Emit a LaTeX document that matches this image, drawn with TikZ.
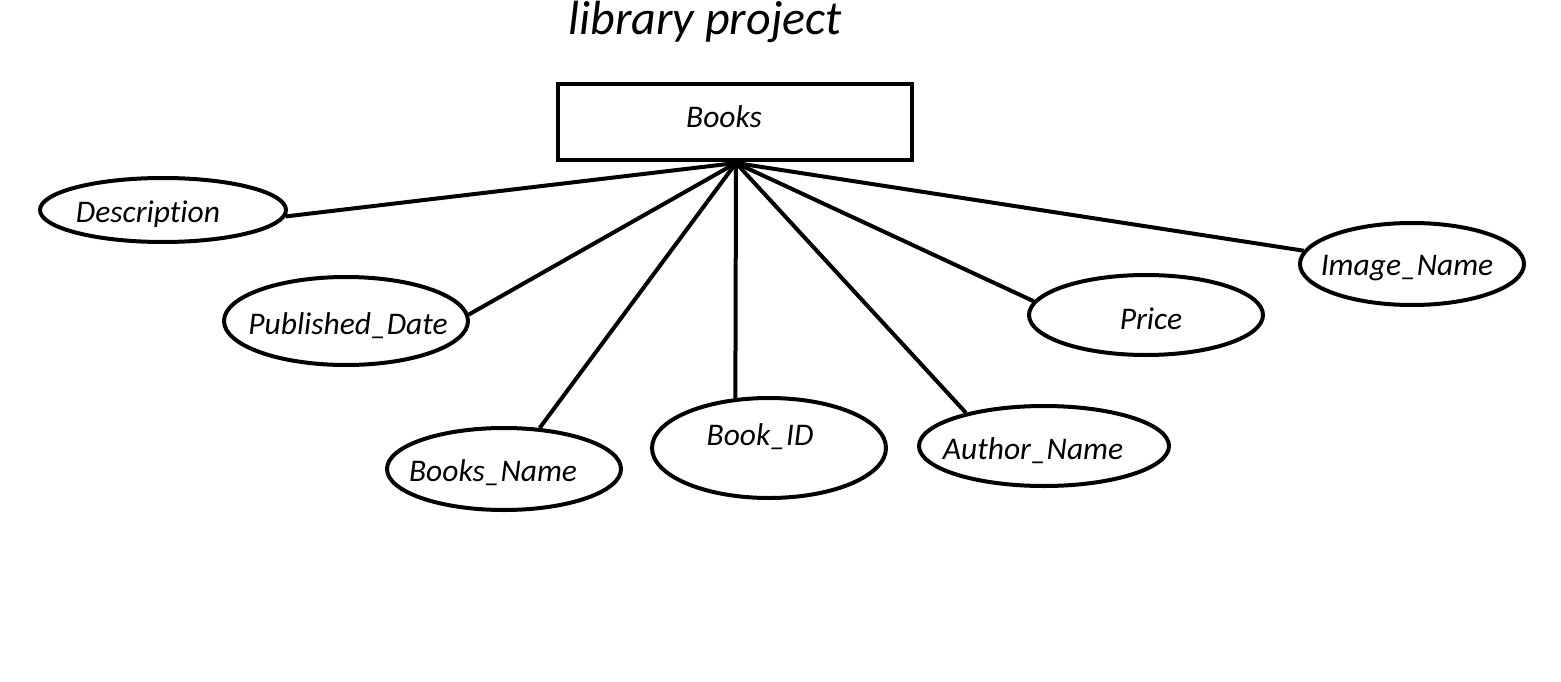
\documentclass[tikz,border=0pt]{standalone}
\usepackage{fontspec}
\setmainfont[Ligatures={NoCommon}]{Carlito}
\usetikzlibrary{shapes.geometric}
\begin{document}
\begin{tikzpicture}[x=1pt,y=-1pt,
  ent/.style={draw,line width=4.5pt,minimum width=354pt,minimum height=76pt,inner sep=0pt},
  ell/.style={draw,ellipse,line width=4pt,inner sep=0pt},
  txt/.style={font=\fontsize{31.5}{38}\selectfont\itshape,inner sep=0pt},
  conn/.style={line width=4pt}]
\useasboundingbox[fill=white] (0,0) rectangle (1561,682);
\node[font=\fontsize{48}{58}\selectfont\itshape,inner sep=0pt] (title) at (705,22) {library project};
\node[ent] (books) at (735,122) {};
\node[txt] (bookst) at (724,117) {Books};
\coordinate (hub) at (736,163);
\node[ell,minimum width=246pt,minimum height=64pt] (desc) at (163,210) {};
\node[txt] at (148,214) {Description};
\node[ell,minimum width=244pt,minimum height=88pt] (pub) at (346,321) {};
\node[txt] at (348,326) {Published\_Date};
\node[ell,minimum width=234pt,minimum height=82pt] (bname) at (504,469) {};
\node[txt] at (493,473) {Books\_Name};
\node[ell,minimum width=234pt,minimum height=100pt] (bid) at (769,448) {};
\node[txt] at (760,437) {Book\_ID};
\node[ell,minimum width=250pt,minimum height=80pt] (auth) at (1044,446) {};
\node[txt] at (1033,451) {Author\_Name};
\node[ell,minimum width=234pt,minimum height=80pt] (price) at (1146,315) {};
\node[txt] at (1151,319) {Price};
\node[ell,minimum width=224pt,minimum height=82pt] (img) at (1412,264) {};
\node[txt] at (1407,268) {Image\_Name};
\draw[conn] (hub) -- (desc.-3);
\draw[conn] (hub) -- (pub.3);
\draw[conn] (hub) -- (bname.49);
\draw[conn] (hub) -- (bid.124);
\draw[conn] (hub) -- (auth.157);
\draw[conn] (hub) -- (price.173);
\draw[conn] (hub) -- (img.173);
\end{tikzpicture}
\end{document}
